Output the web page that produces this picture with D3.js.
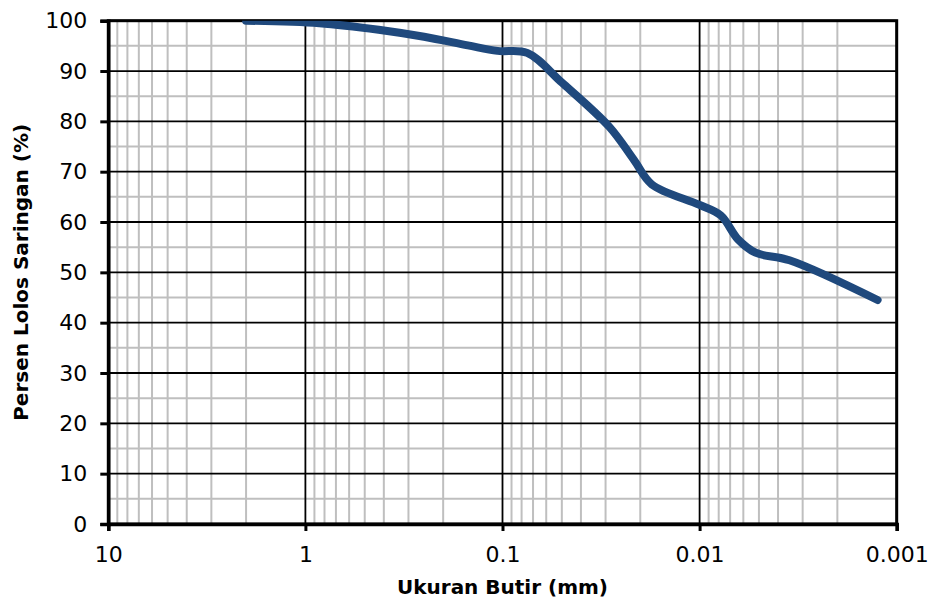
<!DOCTYPE html>
<html>
<head>
<meta charset="utf-8">
<script src="https://d3js.org/d3.v7.min.js"></script>
<style>
  body { margin: 0; background: #fff; }
  text { font-family: "DejaVu Sans", sans-serif; fill: #000; }
</style>
</head>
<body>
<script>
// grain size (mm) and percent passing
var sizes   = [2.0, 0.85, 0.425, 0.25, 0.15, 0.106, 0.075, 0.05, 0.0287, 0.0215, 0.0175, 0.01, 0.0078, 0.0064, 0.0052, 0.0035, 0.00125];
var passing = [100, 99.5, 98.2, 96.8, 95.1, 94.0, 93.6, 87.7, 78.9, 72.3, 67.5, 63.4, 61.3, 56.6, 53.9, 52.4, 44.5];

var xTicks = [10, 1, 0.1, 0.01, 0.001];
var xTickLabels = ["10", "1", "0.1", "0.01", "0.001"];
var yTicks = [0, 10, 20, 30, 40, 50, 60, 70, 80, 90, 100];
var yMinor = [5, 15, 25, 35, 45, 55, 65, 75, 85, 95];

(function () {
  var W = 928, H = 603;
  var pL = 108.3, pR = 896.7, pT = 20.7, pB = 524;

  var svg = d3.select("body").append("svg")
      .attr("width", W)
      .attr("height", H);

  var x = d3.scaleLog().domain([10, 0.001]).range([pL, pR]);
  var y = d3.scaleLinear().domain([0, 100]).range([pB, pT]);

  // minor grid
  var xMinor = x.ticks().filter(function (d) {
    return xTicks.every(function (t) { return Math.abs(t - d) / t > 1e-6; });
  });

  var grid = svg.append("g");
  grid.selectAll(".xminor").data(xMinor).enter().append("line")
      .attr("x1", x).attr("x2", x)
      .attr("y1", pT).attr("y2", pB)
      .attr("stroke", "#bfbfbf").attr("stroke-width", 2);
  grid.selectAll(".yminor").data(yMinor).enter().append("line")
      .attr("x1", pL).attr("x2", pR)
      .attr("y1", y).attr("y2", y)
      .attr("stroke", "#bfbfbf").attr("stroke-width", 2);

  // major grid
  grid.selectAll(".xmajor").data(xTicks).enter().append("line")
      .attr("x1", x).attr("x2", x)
      .attr("y1", pT).attr("y2", pB)
      .attr("stroke", "#000").attr("stroke-width", 1.8);
  grid.selectAll(".ymajor").data(yTicks).enter().append("line")
      .attr("x1", pL).attr("x2", pR)
      .attr("y1", y).attr("y2", y)
      .attr("stroke", "#000").attr("stroke-width", 1.8);

  // frame
  svg.append("rect")
      .attr("x", pL).attr("y", pT)
      .attr("width", pR - pL).attr("height", pB - pT)
      .attr("fill", "none").attr("stroke", "#000").attr("stroke-width", 3);

  // axes with outward ticks
  var xAxis = d3.axisBottom(x).tickValues(xTicks)
      .tickFormat(function (d, i) { return xTickLabels[i]; })
      .tickSize(7).tickPadding(15);
  var yAxis = d3.axisLeft(y).tickValues(yTicks)
      .tickSize(8).tickPadding(13);

  var gx = svg.append("g").attr("transform", "translate(0," + pB + ")").call(xAxis);
  var gy = svg.append("g").attr("transform", "translate(" + pL + ",0)").call(yAxis);

  [gx, gy].forEach(function (g) {
    g.select(".domain").attr("stroke", "#000").attr("stroke-width", 3.5);
    g.selectAll(".tick line").attr("stroke", "#000").attr("stroke-width", 3);
    g.selectAll(".tick text")
        .style("font-family", "'DejaVu Sans', sans-serif")
        .style("font-size", "22px")
        .attr("fill", "#000");
  });

  // clip curve to plot area
  svg.append("clipPath").attr("id", "plot")
    .append("rect")
      .attr("x", pL).attr("y", pT)
      .attr("width", pR - pL).attr("height", pB - pT);

  var pts = sizes.map(function (d, i) { return [d, passing[i]]; });

  var line = d3.line()
      .x(function (d) { return x(d[0]); })
      .y(function (d) { return y(d[1]); })
      .curve(d3.curveCatmullRom.alpha(0.5));

  svg.append("path")
      .datum(pts)
      .attr("clip-path", "url(#plot)")
      .attr("d", line)
      .attr("fill", "none")
      .attr("stroke", "#1f497d")
      .attr("stroke-width", 8)
      .attr("stroke-linecap", "round")
      .attr("stroke-linejoin", "round");

  // axis titles
  svg.append("text")
      .attr("x", (pL + pR) / 2)
      .attr("y", 594)
      .attr("text-anchor", "middle")
      .style("font-size", "20px")
      .style("font-weight", "bold")
      .text("Ukuran Butir (mm)");

  svg.append("text")
      .attr("transform", "translate(28," + ((pT + pB) / 2) + ") rotate(-90)")
      .attr("text-anchor", "middle")
      .style("font-size", "20px")
      .style("font-weight", "bold")
      .text("Persen Lolos Saringan (%)");
})();
</script>
</body>
</html>
